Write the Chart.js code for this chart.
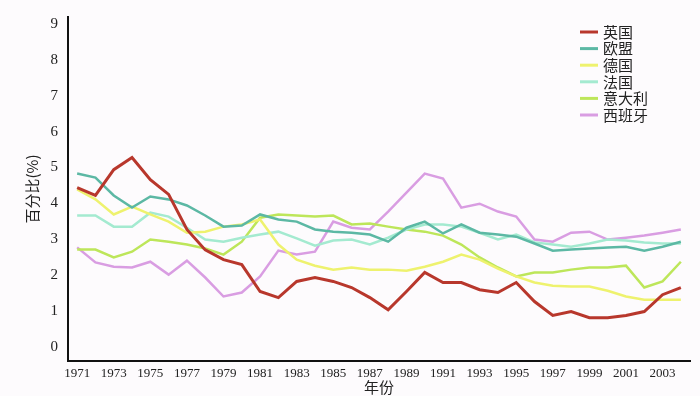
<!DOCTYPE html>
<html>
<head>
<meta charset="utf-8">
<script src="https://cdn.jsdelivr.net/npm/chart.js@4.4.1/dist/chart.umd.min.js"></script>
<style>
html,body{margin:0;padding:0;background:#fdfbfd;}
#wrap{width:700px;height:396px;}
</style>
</head>
<body>
<div id="wrap"><canvas id="chart" width="700" height="396"></canvas></div>
<script>

/* DATA */

const years=[];
for(let y=1971;y<=2004;y++){years.push(String(y));}

const uk=[4.44,4.22,4.94,5.28,4.66,4.25,3.27,2.70,2.43,2.29,1.54,1.37,1.82,1.93,1.82,1.65,1.37,1.03,1.54,2.07,1.79,1.79,1.59,1.51,1.79,1.26,0.87,0.98,0.81,0.81,0.87,0.98,1.45,1.65];
const eu=[4.83,4.72,4.22,3.88,4.19,4.11,3.94,3.66,3.35,3.38,3.69,3.55,3.49,3.27,3.21,3.18,3.13,2.93,3.32,3.49,3.16,3.41,3.18,3.13,3.07,2.88,2.68,2.71,2.74,2.77,2.79,2.68,2.79,2.93];
const germany=[4.39,4.11,3.69,3.91,3.69,3.49,3.18,3.21,3.35,3.41,3.55,2.85,2.43,2.26,2.15,2.21,2.15,2.15,2.12,2.23,2.37,2.57,2.43,2.18,1.96,1.79,1.70,1.68,1.68,1.56,1.40,1.31,1.31,1.31];
const france=[3.66,3.66,3.35,3.35,3.74,3.63,3.32,2.99,2.93,3.04,3.13,3.21,3.02,2.82,2.96,2.99,2.85,3.04,3.27,3.41,3.41,3.35,3.18,2.99,3.13,2.91,2.85,2.79,2.88,2.99,2.96,2.91,2.88,2.88];
const italy=[2.71,2.71,2.49,2.65,2.99,2.93,2.85,2.74,2.57,2.93,3.60,3.69,3.66,3.63,3.66,3.41,3.44,3.35,3.27,3.21,3.10,2.85,2.49,2.21,1.96,2.07,2.07,2.15,2.21,2.21,2.26,1.65,1.82,2.37];
const spain=[2.77,2.35,2.23,2.21,2.37,2.01,2.40,1.93,1.40,1.51,1.96,2.68,2.57,2.65,3.49,3.32,3.27,3.77,4.30,4.83,4.69,3.88,3.99,3.77,3.63,2.99,2.93,3.18,3.21,2.99,3.04,3.10,3.18,3.27];

const yTicks=[0,1,2,3,4,5,6,7,8,9];


/* LINE HELPER */

function line(label,data,color,width){
return {
label:label,
data:data,
borderColor:color,
backgroundColor:color,
borderWidth:width,
pointRadius:0,
tension:0,
fill:false
};
}


/* LEGEND INSIDE THE PLOT */

const insideLegend={
id:"insideLegend",
afterDraw(chart){
const ctx=chart.ctx;
ctx.save();
ctx.font='15px "Noto Sans CJK SC", sans-serif';
ctx.textBaseline="middle";
chart.data.datasets.forEach(function(ds,i){
const y=32+i*16.6;
ctx.strokeStyle=ds.borderColor;
ctx.lineWidth=3;
ctx.beginPath();
ctx.moveTo(580,y);
ctx.lineTo(598,y);
ctx.stroke();
ctx.fillStyle="#222";
ctx.fillText(ds.label,603,y);
});
ctx.restore();
}
};


/* CHART */

new Chart(document.getElementById("chart"),{

type:"line",

data:{
labels:years,
datasets:[
line("英国",uk,"#b8372c",3),
line("欧盟",eu,"#5cb8a4",2.5),
line("德国",germany,"#eef26e",2.5),
line("法国",france,"#a4ead0",2.5),
line("意大利",italy,"#bde65a",2.5),
line("西班牙",spain,"#d99de2",2.5)
]
},

options:{
responsive:false,
animation:false,
layout:{padding:{left:0,top:17,right:10,bottom:0}},
plugins:{
legend:{display:false},
tooltip:{enabled:false}
},
scales:{
x:{
offset:true,
grid:{display:false},
border:{display:true,color:"#111",width:2},
ticks:{
autoSkip:false,
maxRotation:0,
padding:-3,
color:"#222",
font:{family:"Liberation Serif",size:13},
callback:function(v,i){return i%2===0?years[i]:"";}
},
title:{
display:true,
text:"年份",
color:"#222",
padding:{top:0,bottom:0},
font:{family:"Noto Sans CJK SC",size:15}
},
afterFit:function(s){s.height=35;}
},
y:{
min:-0.4,
max:9.2,
grid:{display:false},
border:{display:true,color:"#111",width:2},
afterBuildTicks:function(s){s.ticks=yTicks.map(function(v){return {value:v};});},
ticks:{
padding:2,
color:"#222",
font:{family:"Liberation Serif",size:15}
},
title:{
display:true,
text:"百分比(%)",
color:"#222",
padding:{top:23,bottom:0},
font:{family:"Noto Sans CJK SC",size:15}
},
afterFit:function(s){s.width=68;}
}
}
},

plugins:[insideLegend]

});

</script>
</body>
</html>
